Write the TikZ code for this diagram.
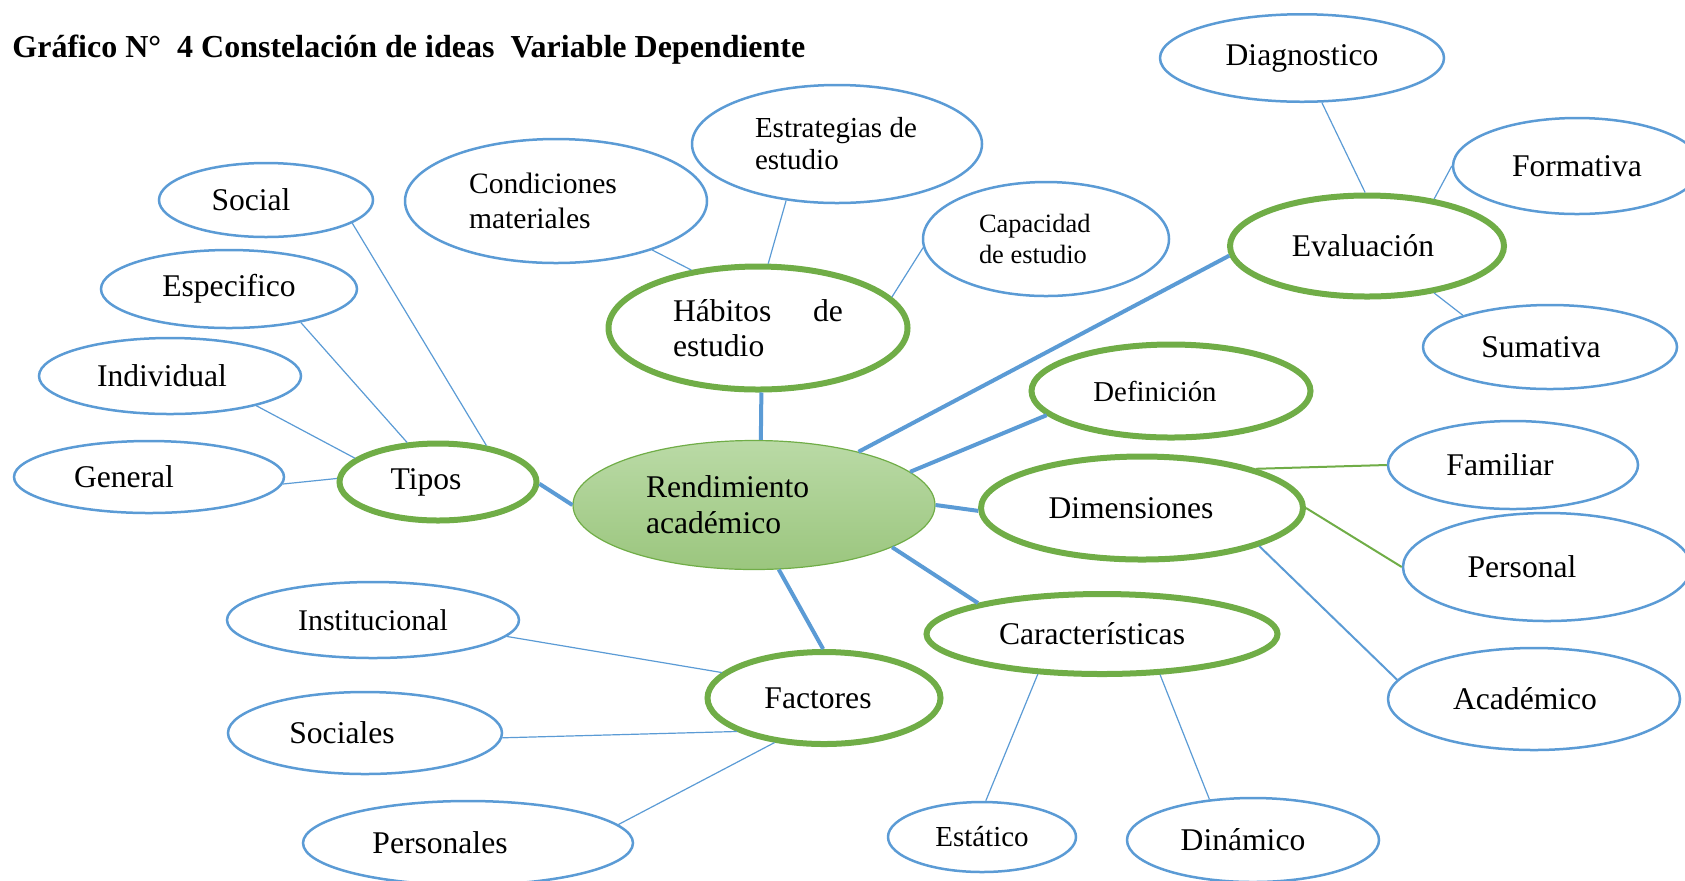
\documentclass[tikz,border=0pt]{standalone}
\usepackage{fontspec}
\setmainfont{Liberation Serif}
\usepackage{xcolor}
\usepackage{tikz}
\usetikzlibrary{shapes}

\definecolor{ideablue}{RGB}{91,155,213}
\definecolor{ideagreen}{RGB}{112,173,71}
\definecolor{hubtop}{RGB}{186,218,166}
\definecolor{hubbot}{RGB}{155,198,126}

\begin{document}
\begin{tikzpicture}[x=0.5pt,y=-0.5pt]
% \tikzstyle{every path}=[very thick]

\edef\textsize{\noexpand\fontsize{15.8}{18}\noexpand\selectfont}
\tikzstyle{leaf}=[ellipse,draw=ideablue,line width=1.25pt,inner sep=1pt,font=\textsize]
\tikzstyle{branch}=[ellipse,draw=ideagreen,line width=3pt,inner sep=1pt,font=\textsize]
\tikzstyle{hub}=[ellipse,draw=ideagreen,line width=0.6pt,top color=hubtop,bottom color=hubbot,inner sep=1pt,font=\textsize]
\tikzstyle{mainlink}=[draw=ideablue,line width=2pt]
\tikzstyle{sublink}=[draw=ideablue,line width=0.6pt]
\tikzstyle{midlink}=[draw=ideablue,line width=1pt]
\tikzstyle{greenlink}=[draw=ideagreen,line width=1pt]
% text a little left of the middle, as in the original
\tikzstyle{nudge}=[execute at end node={\hspace*{#1}}]

\clip (0,0) rectangle (1685,880);

\node[anchor=base west,inner sep=0pt,font=\bfseries\fontsize{16}{19}\selectfont] (title) at (12,57)
    {Gráfico N°\ \ 4 Constelación de ideas\ \ Variable Dependiente};

%% Centre and main ideas
\node[hub,minimum width=181pt,minimum height=64.5pt,text width=108pt,align=flush left] (rend) at (754,505) {Rendimiento\\académico};
\node[branch,minimum width=149.5pt,minimum height=61.5pt,text width=85pt,align=flush left,font=\fontsize{15.8}{17.5}\selectfont] (habitos) at (758,328) {Hábitos\hfill de\\estudio};
\node[branch,minimum width=137pt,minimum height=50.5pt,nudge=4pt] (evaluacion) at (1367,246) {Evaluación};
\node[branch,minimum width=139.5pt,minimum height=46.5pt,font=\fontsize{14.4}{17}\selectfont,nudge=16pt] (definicion) at (1171,391) {Definición};
\node[branch,minimum width=161pt,minimum height=51.5pt,nudge=11pt] (dimensiones) at (1142,508) {Dimensiones};
\node[branch,minimum width=175.5pt,minimum height=40pt,nudge=10pt] (caracteristicas) at (1102,634) {Características};
\node[branch,minimum width=116.5pt,minimum height=46pt,nudge=6pt] (factores) at (824,698) {Factores};
\node[branch,minimum width=98.5pt,minimum height=38.5pt,nudge=12pt] (tipos) at (438,482) {Tipos};

%% Tipos
\begin{scope}
    \node[leaf,minimum width=107pt,minimum height=37pt,nudge=15pt] (social) at (266,200) {Social};
    \node[leaf,minimum width=128pt,minimum height=39pt] (especifico) at (229,289) {Especifico};
    \node[leaf,minimum width=131pt,minimum height=38pt,nudge=8pt] (individual) at (170,376) {Individual};
    \node[leaf,minimum width=135pt,minimum height=36pt,nudge=25pt] (general) at (149,477) {General};
\end{scope}

%% Habitos de estudio
\begin{scope}
    \node[leaf,minimum width=151pt,minimum height=62pt,text width=87pt,align=flush left,font=\fontsize{14.8}{17.75}\selectfont] (condiciones) at (556,201) {Condiciones\\materiales};
    \node[leaf,minimum width=145pt,minimum height=59pt,text width=82pt,align=flush left,font=\fontsize{14.5}{16}\selectfont] (estrategias) at (837,144) {Estrategias de\\estudio};
    \node[leaf,minimum width=123pt,minimum height=57pt,text width=67pt,align=flush left,font=\fontsize{13.2}{15.5}\selectfont] (capacidad) at (1046,239) {Capacidad\\de estudio};
\end{scope}

%% Evaluacion
\begin{scope}
    \node[leaf,minimum width=142pt,minimum height=43.75pt] (diagnostico) at (1302,58) {Diagnostico};
    \node[leaf,minimum width=124pt,minimum height=48pt] (formativa) at (1577,166) {Formativa};
    \node[leaf,minimum width=127pt,minimum height=42pt,nudge=9pt] (sumativa) at (1550,347) {Sumativa};
\end{scope}

%% Dimensiones
\begin{scope}
    \node[leaf,minimum width=125pt,minimum height=44pt,nudge=13pt] (familiar) at (1513,465) {Familiar};
    \node[leaf,minimum width=144pt,minimum height=54pt,nudge=25pt] (personal) at (1547,567) {Personal};
    \node[leaf,minimum width=146pt,minimum height=51pt,nudge=9pt] (academico) at (1534,699) {Académico};
\end{scope}

%% Caracteristicas
\begin{scope}
    \node[leaf,minimum width=94pt,minimum height=35pt,font=\fontsize{14.5}{17}\selectfont] (estatico) at (982,837) {Estático};
    \node[leaf,minimum width=126pt,minimum height=42pt,nudge=10pt] (dinamico) at (1253,840) {Dinámico};
\end{scope}

%% Factores
\begin{scope}
    \node[leaf,minimum width=146pt,minimum height=38pt,font=\fontsize{15}{18}\selectfont] (institucional) at (373,620) {Institucional};
    \node[leaf,minimum width=137pt,minimum height=41pt,nudge=23pt] (sociales) at (365,733) {Sociales};
    \node[leaf,minimum width=165pt,minimum height=42pt,nudge=28pt] (personales) at (468,843) {Personales};
\end{scope}

%% Connectors
\draw[mainlink] (rend.84) -- (habitos.-87);
\draw[mainlink] (rend.27) -- (evaluacion.184);
\draw[mainlink] (rend.12) -- (definicion.191);
\draw[mainlink] (rend.0) -- (dimensiones.181);
\draw[mainlink] (rend.-17) -- (caracteristicas.166);
\draw[mainlink] (rend.-69) -- (factores.91);
\draw[mainlink] (rend.180) -- (tipos.-1);

\draw[sublink] (tipos.37) -- (social.-15);
\draw[sublink] (tipos.128) -- (especifico.-25);
\draw[sublink] (tipos.164) -- (individual.-19);
\draw[sublink] (tipos.178) -- (general.-3);
\draw[sublink] (habitos.139) -- (condiciones.-27);
\draw[sublink] (habitos.81) -- (estrategias.-132);
\draw[sublink] (habitos.13) -- (capacidad.184);
\draw[sublink] (evaluacion.92) -- (diagnostico.-66);
\draw[sublink] (evaluacion.35) -- (formativa.180);
\draw[sublink] (evaluacion.-35) -- (sumativa.160);
\draw[greenlink] (dimensiones.19) -- (familiar.180);
\draw[greenlink] (dimensiones.0) -- (personal.180);
\draw[midlink] (dimensiones.-18) -- (academico.172);
\draw[sublink] (caracteristicas.-148) -- (estatico.84);
\draw[sublink] (caracteristicas.-35) -- (dinamico.137);
\draw[sublink] (factores.166) -- (institucional.-7);
\draw[sublink] (factores.201) -- (sociales.-2.5);
\draw[sublink] (factores.222) -- (personales.7);

\end{tikzpicture}
\end{document}
